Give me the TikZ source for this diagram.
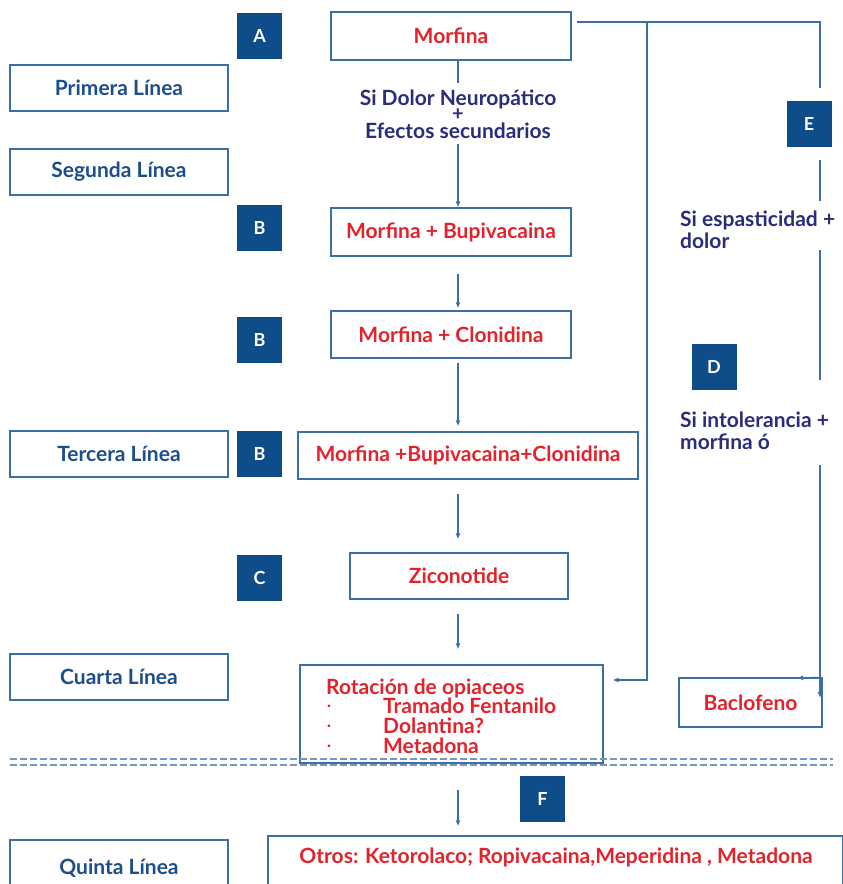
\documentclass[tikz,border=0pt]{standalone}
\usepackage{fontspec}
\setmainfont{Lato}
\usetikzlibrary{arrows.meta}
\definecolor{tagblue}{RGB}{14,76,138}
\definecolor{lineblue}{RGB}{28,78,140}
\definecolor{edgeblue}{RGB}{61,111,166}
\definecolor{drugred}{RGB}{227,35,43}
\definecolor{condblue}{RGB}{43,44,124}
\definecolor{dashblue}{RGB}{120,150,190}
\newcommand{\bigf}{\bfseries\fontsize{21}{22}\selectfont}
\tikzset{
  drugbox/.style={draw=edgeblue, line width=1.3pt, fill=white, inner sep=0pt,
    text=drugred, font=\bigf},
  tagbox/.style={fill=tagblue, text=white, minimum width=45pt, minimum height=46pt,
    inner sep=0pt, font=\bfseries\fontsize{18}{20}\selectfont},
  levelbox/.style={draw=edgeblue, line width=1.3pt, fill=white, inner sep=0pt,
    minimum width=218pt, minimum height=46pt, text=lineblue, font=\bigf},
  condtext/.style={text=condblue, font=\bigf, inner sep=0pt},
  redtext/.style={text=drugred, font=\bigf, inner sep=0pt},
  conn/.style={draw=edgeblue, line width=1.3pt},
  arr/.style={conn, -{Latex[length=6pt,width=5pt]}},
  dline/.style={draw=dashblue, line width=1.6pt, dash pattern=on 7pt off 3pt}
}
\begin{document}
\begin{tikzpicture}[x=1pt,y=-1pt]
\clip (0,0) rectangle (843,884);
\fill[white] (0,0) rectangle (843,884);
% level boxes
\node[levelbox] (l1) at (119,88) {Primera Línea};
\node[levelbox] (l2) at (119,172) {Segunda Línea};
\node[levelbox] (l3) at (119,454) {Tercera Línea};
\node[levelbox] (l4) at (119,677) {Cuarta Línea};
\node[levelbox, minimum height=60pt] (l5) at (119,870) {};
\node[text=lineblue, font=\bigf, inner sep=0pt] (l5t) at (119,868) {Quinta Línea};
% tags
\node[tagbox] (tA) at (259.5,36) {A};
\node[tagbox] (tB1) at (259.5,227.5) {B};
\node[tagbox] (tB2) at (259.5,340) {B};
\node[tagbox] (tB3) at (259.5,454) {B};
\node[tagbox] (tC) at (259.5,577.5) {C};
\node[tagbox] (tE) at (809,124) {E};
\node[tagbox] (tD) at (714,367) {D};
\node[tagbox] (tF) at (542.5,798.5) {F};
% drug boxes
\node[drugbox, minimum width=240pt, minimum height=48pt] (morf) at (451,36) {Morfina};
\node[drugbox, minimum width=240pt, minimum height=48pt] (bup) at (451,232) {Morfina + Bupivacaina};
\node[drugbox, minimum width=240pt, minimum height=47pt] (clon) at (451,334.5) {Morfina + Clonidina};
\node[drugbox, minimum width=340pt, minimum height=47pt] (tri) at (468,455.5) {Morfina +Bupivacaina+Clonidina};
\node[drugbox, minimum width=218pt, minimum height=46pt] (zic) at (459,576) {Ziconotide};
\node[drugbox, minimum width=303pt, minimum height=98pt] (rot) at (451.5,714) {};
\node[drugbox, minimum width=143pt, minimum height=49pt] (bac) at (750.5,702.5) {Baclofeno};
\node[drugbox, minimum width=575pt, minimum height=70pt] (otros) at (555.5,871) {};
\node[redtext] (otrostxt) at (556,857) {Otros: Ketorolaco; Ropivacaina,Meperidina , Metadona};
% rotation text
\node[redtext, anchor=base west] (r1) at (326,694) {Rotación de opiaceos};
\node[redtext, anchor=base west] (r2) at (383,713) {Tramado Fentanilo};
\node[redtext, anchor=base west] (r3) at (383,733) {Dolantina?};
\node[redtext, anchor=base west] (r4) at (383,753) {Metadona};
\foreach \yy/\nm in {710/b2,730/b3,750/b4}
  \node[anchor=base west, text=drugred, font=\bfseries\fontsize{14}{16}\selectfont, inner sep=0pt] (\nm) at (327,\yy) {·};
% conditions
\node[condtext] (c1) at (458,99) {Si Dolor Neuropático};
\node[condtext, font=\bfseries\fontsize{20}{20}\selectfont] (cplus) at (458,115) {+};
\node[condtext] (c2) at (458,131) {Efectos secundarios};
\node[condtext, align=left, anchor=north west] (esp) at (680,211) {Si espasticidad +\\dolor};
\node[condtext, align=left, anchor=north west] (into) at (680,412) {Si intolerancia +\\morfina ó};
% main vertical flow
\draw[conn, shorten >=6pt] (morf.south -| 458,0) -- (c1.north);
\draw[arr, shorten <=5pt] (c2.south) -- (bup.north -| c2.south);
\draw[arr, shorten <=17pt, shorten >=2pt] (bup.south -| 458,0) -- (clon.north -| 458,0);
\draw[arr, shorten <=4pt, shorten >=5pt] (clon.south -| 458,0) -- (tri.north -| 458,0);
\draw[arr, shorten <=14pt, shorten >=13pt] (tri.south -| 458,0) -- (zic.north -| 458,0);
\draw[arr, shorten <=14pt, shorten >=15pt] (zic.south -| 458,0) -- (rot.north -| 458,0);
% right connectors
\coordinate (h0) at (577,22);
\coordinate (h1) at (820,22);
\coordinate (v0) at (647,22);
\coordinate (v1) at (647,680);
\draw[conn] (h0) -- (h1) -- (820,88);
\draw[conn] (820,160) -- (820,201);
\draw[conn] (820,250) -- (820,380);
\draw[arr] (v0) -- (v1) -- (rot.east |- v1) [shorten >=9pt];
\draw[arr] (820,465) -- (820,698);
\draw[arr] (bac.north east) ++(-2pt,0) -- (797,678);
% dashed separators
\draw[dline] (10,759) -- (833,759);
\draw[dline] (10,765) -- (833,765);
% bottom arrow
\coordinate (f0) at (458,790);
\draw[arr, shorten >=9pt] (f0) -- (f0 |- otros.north);
\end{tikzpicture}
\end{document}
